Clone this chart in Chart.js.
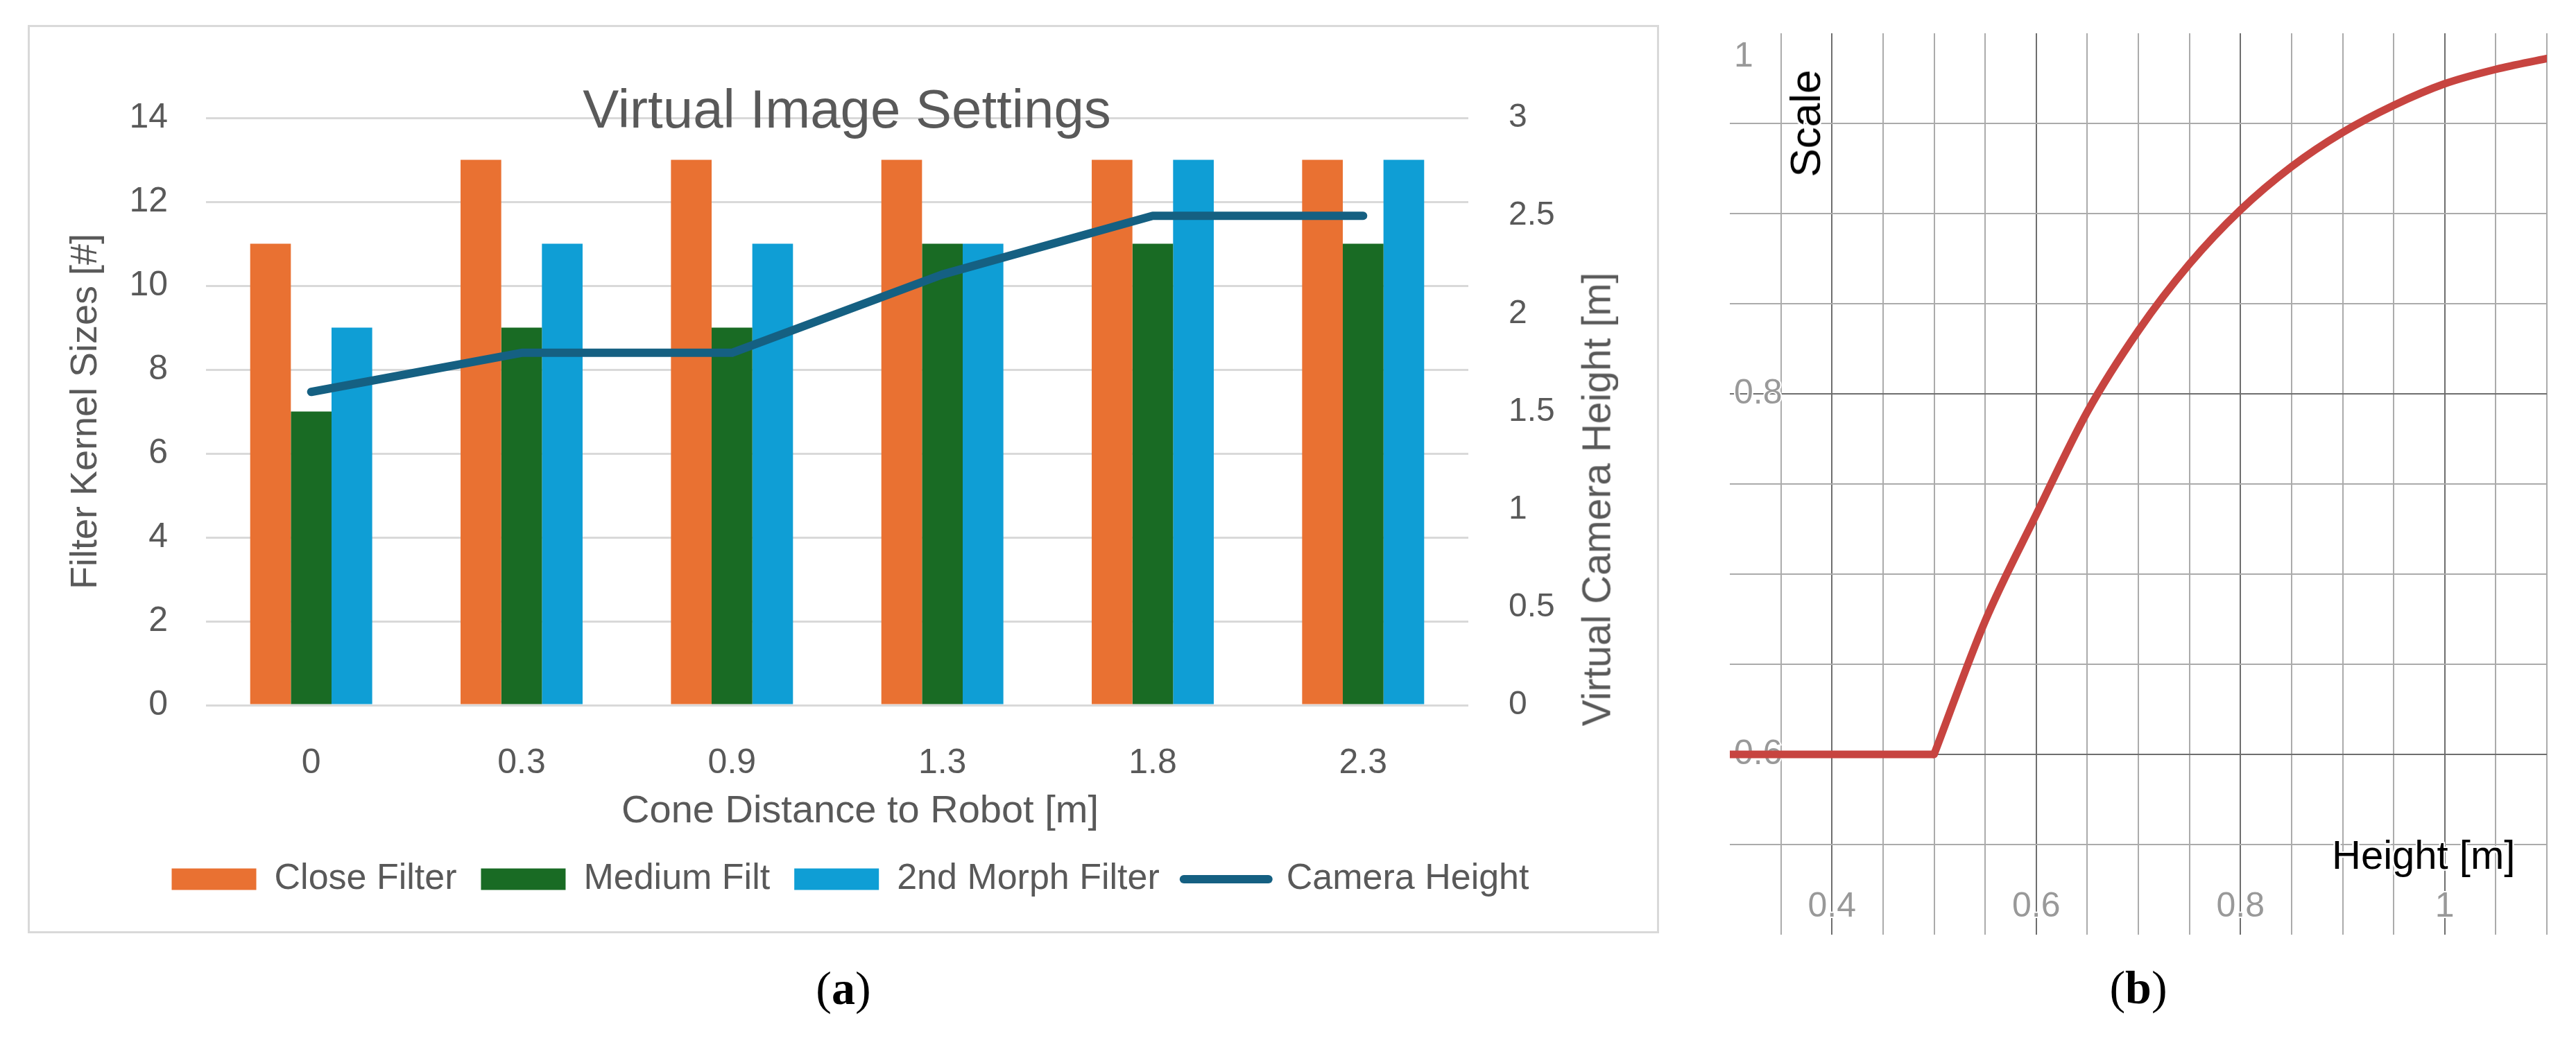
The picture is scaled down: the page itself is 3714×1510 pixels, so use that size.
<!DOCTYPE html>
<html>
<head>
<meta charset="utf-8">
<title>Virtual Image Settings / Scale vs Height</title>
<script src="https://cdn.jsdelivr.net/npm/chart.js@4.4.1/dist/chart.umd.min.js"></script>
<style>
  html, body { margin: 0; padding: 0; background: #fff; }
  body { position: relative; width: 3714px; height: 1510px; overflow: hidden; font-family: 'Liberation Sans', Arial, sans-serif; }
  .txt { position: absolute; white-space: nowrap; line-height: 1; }
  .mid { transform: translateX(-50%); }
  .rot { transform: translate(-50%, -50%) rotate(-90deg); }
  .grey { color: #595959; }
  .serif { font-family: 'Liberation Serif', 'Times New Roman', serif; color: #000; }
  .halo { color: #000; text-shadow: 2px 0 #fff, -2px 0 #fff, 0 2px #fff, 0 -2px #fff, 2px 2px #fff, -2px -2px #fff, 2px -2px #fff, -2px 2px #fff; }
  #frame { position: absolute; left: 40px; top: 36px; width: 2352px; height: 1310px; border: 3px solid #d9d9d9; box-sizing: border-box; }
  #chart-a { position: absolute; left: 0; top: 0; }
  #chart-b { position: absolute; left: 2474px; top: 28px; }
</style>
</head>
<body>
<div id="frame"></div>
<canvas id="chart-a" width="2452" height="1350"></canvas>
<canvas id="chart-b" width="1218" height="1340"></canvas>

<div class="txt mid grey" style="left:1221px; top:118px; font-size:78px;">Virtual Image Settings</div>
<div class="txt mid grey" style="left:1240px; top:1139px; font-size:56px;">Cone Distance to Robot [m]</div>
<div class="txt rot grey" style="left:2302px; top:720px; font-size:57px;">Virtual Camera Height [m]</div>
<div class="txt rot halo" style="left:2603px; top:178px; font-size:62px;">Scale</div>
<div class="txt halo" style="left:3362px; top:1204px; font-size:58px;">Height [m]</div>
<div class="txt mid serif" style="left:1216px; top:1391px; font-size:68px;">(<b>a</b>)</div>
<div class="txt mid serif" style="left:3083px; top:1390px; font-size:68px;">(<b>b</b>)</div>

<script>
// (a) virtual image settings
const CATEGORIES = ['0', '0.3', '0.9', '1.3', '1.8', '2.3'];
const CLOSE_FILTER = [11, 13, 13, 13, 13, 13];
const MEDIUM_FILTER = [7, 9, 9, 11, 11, 11];
const MORPH_FILTER = [9, 11, 11, 11, 13, 13];
const CAMERA_HEIGHT = [1.6, 1.8, 1.8, 2.2, 2.5, 2.5];

// (b) scale over height
const HEIGHT_FLAT = [0.3, 0.5];
const SCALE_FLAT = [0.6, 0.6];
const HEIGHT_RISE = [0.5, 0.55, 0.6, 0.65, 0.7, 0.75, 0.8, 0.85, 0.9, 0.95, 1.0, 1.05, 1.1];
const SCALE_RISE = [0.6, 0.674, 0.733, 0.79, 0.835, 0.872, 0.902, 0.926, 0.945, 0.96, 0.972, 0.98, 0.986];
const HEIGHT_TICK_LABELS = [0.4, 0.6, 0.8, 1];
const SCALE_TICK_LABELS = [0.6, 0.8, 1];

const GREY = '#595959';
const LINE_COLOR = '#156082';
const RED = '#c74440';

Chart.defaults.font.family = "'Liberation Sans', Arial, sans-serif";
Chart.defaults.animation = false;

const near = (v, list) => list.some(t => Math.abs(t - v) < 1e-6);
const fmt = v => String(Number(Number(v).toFixed(2)));

// pin a scale to a fixed thickness and stop it from pushing the chart area around
function pinScale(size) {
    return scale => {
        if (scale.isHorizontal()) scale.height = size;
        else scale.width = size;
        scale.paddingTop = 0;
        scale.paddingBottom = 0;
        scale.paddingLeft = 0;
        scale.paddingRight = 0;
    };
}

new Chart(document.getElementById('chart-a'), {
    type: 'bar',
    data: {
        labels: CATEGORIES,
        datasets: [
            { label: 'Close Filter', data: CLOSE_FILTER, backgroundColor: '#e97132', order: 1 },
            { label: 'Medium Filt', data: MEDIUM_FILTER, backgroundColor: '#196b24', order: 1 },
            { label: '2nd Morph Filter', data: MORPH_FILTER, backgroundColor: '#0f9ed5', order: 1 },
            {
                type: 'line',
                label: 'Camera Height',
                data: CAMERA_HEIGHT,
                yAxisID: 'y1',
                borderColor: LINE_COLOR,
                backgroundColor: LINE_COLOR,
                borderWidth: 12,
                borderCapStyle: 'round',
                borderJoinStyle: 'round',
                pointRadius: 0,
                tension: 0,
                order: 0
            }
        ]
    },
    options: {
        responsive: false,
        devicePixelRatio: 1,
        layout: { padding: { top: 170, bottom: 46, left: 0, right: 0 } },
        datasets: { bar: { categoryPercentage: 0.58, barPercentage: 1, borderWidth: 0 } },
        plugins: {
            title: { display: false },
            tooltip: { enabled: false },
            legend: {
                position: 'bottom',
                labels: {
                    usePointStyle: true,
                    pointStyleWidth: 122,
                    boxHeight: 31,
                    padding: 35,
                    color: GREY,
                    font: { size: 52 },
                    sort: (a, b) => a.datasetIndex - b.datasetIndex,
                    generateLabels(chart) {
                        const items = Chart.defaults.plugins.legend.labels.generateLabels(chart);
                        return items.map(item => {
                            if (item.datasetIndex === 3) {
                                item.pointStyle = 'line';
                                item.lineWidth = 12;
                                item.lineCap = 'round';
                                item.strokeStyle = LINE_COLOR;
                            } else {
                                item.pointStyle = 'rect';
                                item.lineWidth = 0;
                            }
                            return item;
                        });
                    }
                }
            }
        },
        scales: {
            x: {
                afterFit: pinScale(190),
                grid: { display: false },
                border: { display: false },
                ticks: { color: GREY, font: { size: 50 }, padding: 46, maxRotation: 0, autoSkip: false }
            },
            y: {
                position: 'left',
                min: 0,
                max: 14,
                afterFit: pinScale(297),
                grid: { color: '#d9d9d9', lineWidth: 3, drawTicks: false },
                border: { display: false },
                ticks: { stepSize: 2, color: GREY, font: { size: 50 }, padding: 55 },
                title: {
                    display: true,
                    text: 'Filter Kernel Sizes [#]',
                    color: GREY,
                    font: { size: 54 },
                    padding: { top: 92, bottom: 0 }
                }
            },
            y1: {
                position: 'right',
                min: 0,
                max: 3,
                afterFit: pinScale(335),
                grid: { drawOnChartArea: false, drawTicks: false },
                border: { display: false },
                ticks: { stepSize: 0.5, color: GREY, font: { size: 48 }, padding: 58, callback: v => fmt(v) }
            }
        }
    }
});

function gridColor(value, labelled, hidden) {
    if (near(value, hidden)) return 'rgba(0,0,0,0)';
    return near(value, labelled) ? '#6e6e6e' : '#ababab';
}

new Chart(document.getElementById('chart-b'), {
    type: 'line',
    data: {
        datasets: [
            {
                label: 'flat',
                data: HEIGHT_FLAT.map((h, i) => ({ x: h, y: SCALE_FLAT[i] })),
                borderColor: RED,
                borderWidth: 11,
                borderCapStyle: 'butt',
                pointRadius: 0,
                clip: 0
            },
            {
                label: 'rise',
                data: HEIGHT_RISE.map((h, i) => ({ x: h, y: SCALE_RISE[i] })),
                borderColor: RED,
                borderWidth: 11,
                borderCapStyle: 'round',
                cubicInterpolationMode: 'monotone',
                pointRadius: 0,
                clip: 0
            }
        ]
    },
    options: {
        responsive: false,
        devicePixelRatio: 1,
        layout: { padding: { top: 20, bottom: 20, left: 20, right: 20 } },
        plugins: { legend: { display: false }, tooltip: { enabled: false }, title: { display: false } },
        scales: {
            x: {
                type: 'linear',
                min: 0.3,
                max: 1.1,
                afterFit: pinScale(0),
                border: { display: false },
                grid: {
                    lineWidth: 2,
                    drawTicks: false,
                    color: ctx => gridColor(ctx.tick.value, HEIGHT_TICK_LABELS, [0.3])
                },
                ticks: {
                    stepSize: 0.05,
                    autoSkip: false,
                    maxRotation: 0,
                    mirror: true,
                    padding: 10,
                    color: '#999999',
                    font: { size: 50 },
                    textStrokeColor: '#ffffff',
                    textStrokeWidth: 4,
                    callback: v => near(v, HEIGHT_TICK_LABELS) ? fmt(v) : ''
                }
            },
            y: {
                type: 'linear',
                min: 0.5,
                max: 1.0,
                afterFit: pinScale(0),
                border: { display: false },
                grid: {
                    lineWidth: 2,
                    drawTicks: false,
                    color: ctx => gridColor(ctx.tick.value, SCALE_TICK_LABELS, [0.5, 1.0])
                },
                ticks: {
                    stepSize: 0.05,
                    autoSkip: false,
                    mirror: true,
                    padding: 6,
                    color: '#999999',
                    font: { size: 50, lineHeight: 1.36 },
                    textStrokeColor: '#ffffff',
                    textStrokeWidth: 4,
                    // the top label sits just under the edge, as in the source plot
                    callback: v => {
                        if (!near(v, SCALE_TICK_LABELS)) return '';
                        return near(v, [1]) ? ['', fmt(v)] : fmt(v);
                    }
                }
            }
        }
    }
});
</script>
</body>
</html>
